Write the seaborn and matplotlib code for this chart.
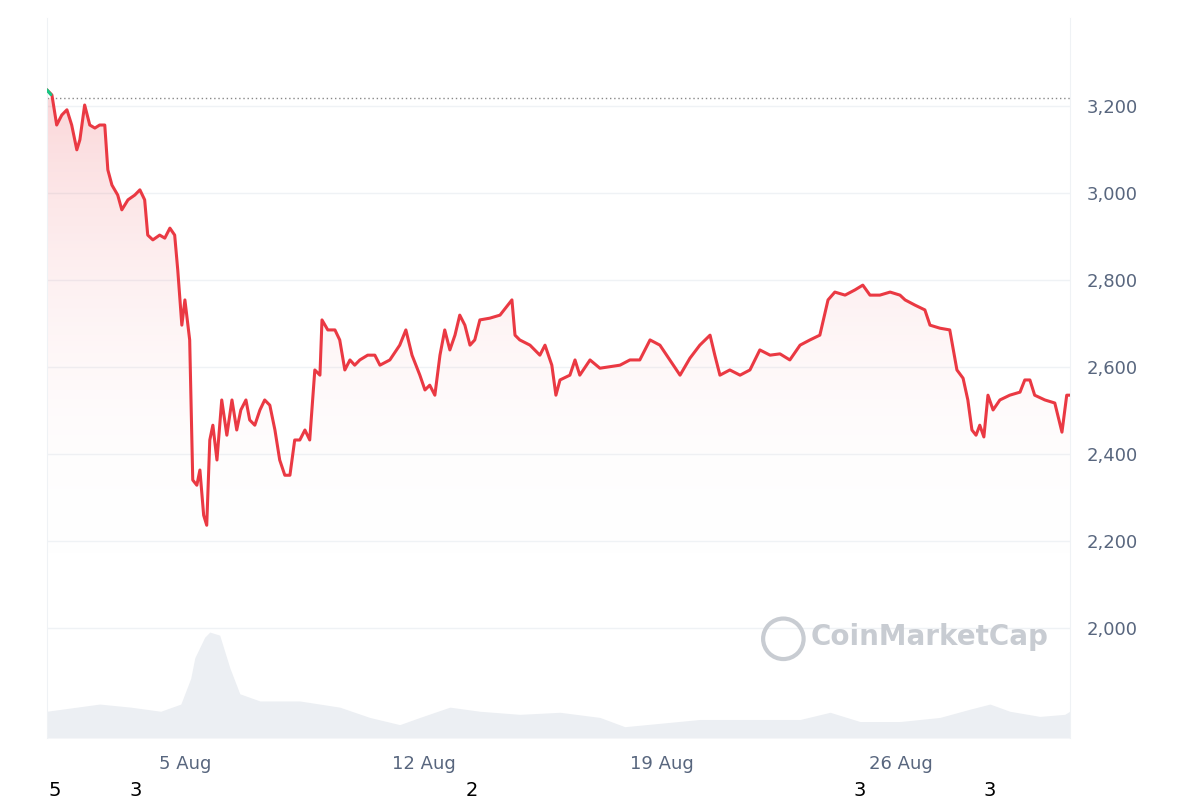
import matplotlib
matplotlib.use('Agg')
import matplotlib.pyplot as plt
import numpy as np
import seaborn as sns
import pandas as pd
from matplotlib.patches import Polygon

sns.set_style('white')
plt.rcParams['font.family'] = ['DejaVu Sans']

# price series (days since 1 Aug, USD)
days = [0, .15, .29, .44, .59, .73, .88, .97, 1.11, 1.26, 1.41, 1.55, 1.70, 1.79, 1.91, 2.08, 2.20, 2.38,
        2.58, 2.73, 2.87, 2.96, 3.11, 3.31, 3.46, 3.61, 3.75, 3.84, 3.96, 4.05, 4.19, 4.28, 4.40, 4.49, 4.60,
        4.69, 4.78, 4.87, 4.99, 5.13, 5.28, 5.43, 5.57, 5.69, 5.84, 5.95, 6.10, 6.25, 6.39, 6.54, 6.69, 6.83,
        6.98, 7.13, 7.27, 7.42, 7.57, 7.71, 7.86, 8.01, 8.07, 8.24, 8.45, 8.59, 8.74, 8.89, 9.03, 9.18, 9.41,
        9.62, 9.77, 10.06, 10.35, 10.53, 10.71, 10.94, 11.09, 11.23, 11.38, 11.53, 11.67, 11.82, 11.97, 12.11,
        12.26, 12.41, 12.55, 12.70, 12.99, 13.29, 13.64, 13.73, 13.87, 14.17, 14.46, 14.61, 14.81, 14.93,
        15.05, 15.34, 15.49, 15.63, 15.93, 16.22, 16.81, 17.10, 17.39, 17.69, 17.98, 18.27, 18.57, 18.86,
        19.15, 19.45, 19.59, 19.74, 20.03, 20.33, 20.62, 20.91, 21.21, 21.50, 21.79, 22.09, 22.38, 22.67,
        22.91, 23.11, 23.41, 23.70, 23.93, 24.14, 24.43, 24.73, 25.02, 25.17, 25.46, 25.75, 25.90, 26.19,
        26.48, 26.69, 26.87, 27.01, 27.13, 27.25, 27.36, 27.48, 27.60, 27.75, 27.95, 28.24, 28.54, 28.68,
        28.83, 28.97, 29.27, 29.56, 29.77, 29.91, 30.0]
prices = [3237, 3225, 3156, 3179, 3191, 3156, 3099, 3122, 3202, 3156, 3149, 3156, 3156, 3053, 3018, 2995,
          2961, 2984, 2995, 3007, 2984, 2903, 2892, 2903, 2896, 2919, 2903, 2823, 2696, 2754, 2662, 2340,
          2328, 2363, 2259, 2236, 2432, 2466, 2386, 2524, 2443, 2524, 2455, 2501, 2524, 2478, 2466, 2501,
          2524, 2512, 2455, 2386, 2351, 2351, 2432, 2432, 2455, 2432, 2593, 2581, 2708, 2685, 2685, 2662,
          2593, 2616, 2604, 2616, 2627, 2627, 2604, 2616, 2650, 2685, 2627, 2581, 2547, 2558, 2535, 2627,
          2685, 2639, 2673, 2719, 2696, 2650, 2662, 2708, 2712, 2719, 2754, 2673, 2662, 2650, 2627, 2650,
          2604, 2535, 2570, 2581, 2616, 2581, 2616, 2597, 2604, 2616, 2616, 2662, 2650, 2616, 2581, 2620,
          2650, 2673, 2627, 2581, 2593, 2581, 2593, 2639, 2627, 2630, 2616, 2650, 2662, 2673, 2754, 2772,
          2765, 2777, 2788, 2765, 2765, 2772, 2765, 2754, 2742, 2731, 2696, 2689, 2685, 2593, 2574, 2524,
          2455, 2443, 2466, 2439, 2535, 2501, 2524, 2535, 2542, 2570, 2570, 2535, 2524, 2517, 2450, 2535, 2535]

# volume (relative)
vol_days = [0, 1.55, 2.46, 3.34, 3.93, 4.22, 4.34, 4.63, 4.78, 5.07, 5.37, 5.66, 6.25, 7.42, 8.59, 9.47,
            10.35, 10.94, 11.82, 12.70, 13.87, 15.05, 16.22, 16.95, 19.15, 22.09, 22.97, 23.85, 25.02,
            26.19, 27.07, 27.66, 28.24, 29.12, 29.85, 30.0]
volume = [26, 33, 30, 26, 33, 58, 78, 98, 103, 100, 68, 43, 36, 36, 30, 20, 13, 20, 30, 26, 23, 25, 20,
          11, 18, 18, 25, 16, 16, 20, 28, 33, 26, 21, 23, 26]

ref_price = 3218
tick_days = [4.05, 11.05, 18.05, 25.05]
tick_labels = ['5 Aug', '12 Aug', '19 Aug', '26 Aug']
y_ticks = [2000, 2200, 2400, 2600, 2800, 3000, 3200]

df = pd.DataFrame({'day': days, 'price': prices})

fig = plt.figure(figsize=(12, 8), dpi=100)
ax = fig.add_axes([0.039, 0.0775, 0.8525, 0.9])
ylo, yhi = 1747, 3402

# volume on twin axis
axv = ax.twinx()
axv.fill_between(vol_days, volume, color='#eceff3', lw=0)
axv.set_ylim(0, 700)
axv.set_yticks([])
axv.set_zorder(0)
ax.set_zorder(1)
ax.patch.set_visible(False)

# gradient fill under price
grad = np.linspace(0, 1, 256).reshape(-1, 1)
cmap = matplotlib.colors.LinearSegmentedColormap.from_list('g', [(1, 1, 1, 0), (0.92, 0.22, 0.26, 0.2)])
im = ax.imshow(grad, extent=[0, 30, 2150, ref_price], origin='lower', aspect='auto', cmap=cmap, zorder=1)
poly = Polygon(list(zip(days, prices)) + [(30, 1747), (0, 1747)], closed=True, transform=ax.transData)
im.set_clip_path(poly)

sns.lineplot(data=df, x='day', y='price', ax=ax, color='#ea3943', lw=2.2, zorder=3)
ax.plot([0, 0.12], [3237, 3226], color='#16c784', lw=2.2, zorder=4)
ax.axhline(ref_price, color='#888888', ls=(0, (1, 2)), lw=1, zorder=2)

ax.set_xlim(0, 30)
ax.set_ylim(ylo, yhi)
ax.yaxis.tick_right()
ax.set_yticks(y_ticks)
ax.set_yticklabels([f'{v:,}' for v in y_ticks], color='#58667e', fontsize=13)
ax.set_xticks(tick_days)
ax.set_xticklabels(tick_labels, color='#58667e', fontsize=13)
ax.tick_params(length=0, pad=12)
ax.set_xlabel('')
ax.set_ylabel('')
ax.grid(axis='y', color='#eff2f5', lw=1)
for s in ['top', 'bottom']:
    ax.spines[s].set_visible(False)
for s in ['left', 'right']:
    ax.spines[s].set_color('#eff2f5')
for s in axv.spines.values():
    s.set_visible(False)

ax.text(25.9, 1980, 'CoinMarketCap', fontsize=20, color='#c8ccd2', ha='center', va='center',
        fontweight='bold', zorder=2)
ax.scatter([21.6], [1975], s=850, facecolors='none', edgecolors='#c8ccd2', lw=3, zorder=2)

for xp, t in [(55, '5'), (136, '3'), (472, '2'), (860, '3'), (990, '3')]:
    fig.text(xp / 1200, 1 - 790 / 800, t, fontsize=14, ha='center', va='center', color='black')

plt.savefig('out.png', dpi=100)
